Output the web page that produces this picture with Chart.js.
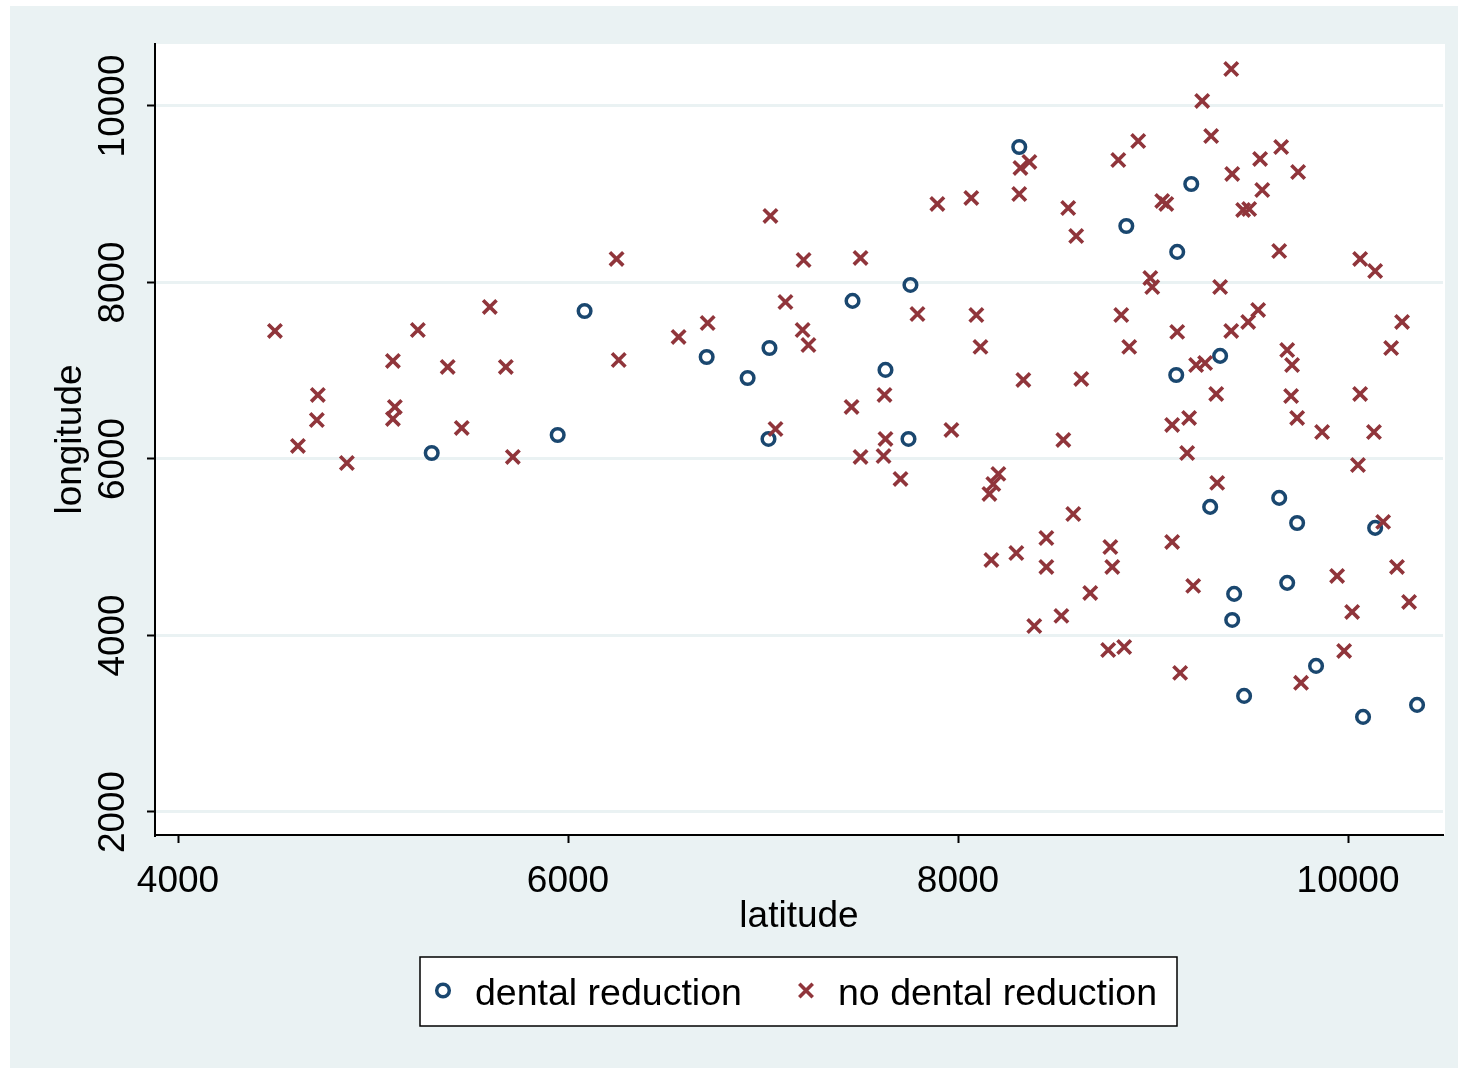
<!DOCTYPE html>
<html><head><meta charset="utf-8">
<script src="https://cdn.jsdelivr.net/npm/chart.js@4.4.0/dist/chart.umd.min.js"></script>
<style>html,body{margin:0;padding:0;background:#fff;overflow:hidden}</style>
</head><body>
<canvas id="c" width="1461" height="1072"></canvas>
<script>
const seriesLabels = ['dental reduction', 'no dental reduction'];
const xTitle = 'latitude';
const yTitle = 'longitude';
const xTicks = [4000, 6000, 8000, 10000];
const yTicks = [2000, 4000, 6000, 8000, 10000];

const dentalLat = [5301,5947,6085,6711,6921,7033,7028,7459,7628,7756,7746,8314,8863,9196,9124,9119,9344,9293,9647,9739,10139,9416,9688,9406,9836,9467,10077,10354];
const dentalLon = [6068,6272,7677,7156,6918,7258,6227,7791,7009,7972,6227,9535,8640,9116,8346,6952,7168,5457,5559,5275,5219,4471,4596,4176,3655,3315,3077,3213];

const noDentalLat = [7038,6249,7208,8320,8366,8314,7894,8068,8565,8606,8822,8924,7500,9401,9252,9298,9657,9549,9406,9744,9560,9047,9068,9462,9493,9647,10062,10139,8986,
4497,5230,5599,5102,5383,5681,4717,4712,5112,5102,5455,4615,4866,5717,
6260,6567,6716,7115,7203,7233,7064,7454,
7792,8094,8115,8335,8632,8837,8878,7623,7966,7628,8540,7500,7618,7705,8207,8181,8161,
8996,9344,9539,9488,9401,9124,10277,10221,9688,9713,9221,9267,9324,9708,10062,9185,9098,9739,9867,10133,9175,10051,9329,
8591,8453,8299,8171,8453,8781,8791,8678,8530,8391,8770,8852,
9098,9206,9944,10251,10021,10313,9980,9139,9759,10180];
const noDentalLon = [8754,8267,8255,9298,9366,9003,8890,8958,8844,8527,9388,9603,8278,10419,10057,9660,9535,9400,9230,9252,9048,8924,8890,8822,8833,8357,8267,8130,8051,
7451,7462,7723,7111,7043,7043,6726,6442,6590,6454,6352,6148,5955,6023,
7122,7383,7541,7779,7462,7292,6340,6590,
7643,7632,7270,6896,6907,7632,7270,6726,6329,6227,6216,6023,6034,5774,5831,5717,5604,
7949,7949,7689,7553,7451,7440,7553,7258,7235,7065,7065,7088,6737,6714,6737,6465,6386,6465,6306,6306,6068,5932,5729,
5377,5105,4935,4856,4777,5003,4777,4482,4222,4108,3836,3870,
5060,4562,4675,4777,4267,4380,3825,3576,3463,5287];

const NAVY = '#1a476f';
const MAROON = '#90353b';
const BG = '#eaf2f3';
const FONT = '"Liberation Sans", Arial, Helvetica, sans-serif';

Chart.defaults.font.family = FONT;
Chart.defaults.color = '#000';

const bgPlugin = {
  id: 'stataBg',
  beforeDraw(chart) {
    const { ctx, chartArea: a } = chart;
    ctx.save();
    ctx.fillStyle = '#fff';
    ctx.fillRect(0, 0, chart.width, chart.height);
    ctx.fillStyle = BG;
    ctx.fillRect(10, 6, 1448, 1062);
    ctx.fillStyle = '#fff';
    ctx.fillRect(a.left, a.top, a.right - a.left + 2, a.bottom - a.top);
    ctx.restore();
  }
};

const boxLegend = {
  id: 'boxLegend',
  afterDraw(chart) {
    const ctx = chart.ctx;
    const x0 = 420, y0 = 957, w = 757, h = 69;
    const cy = y0 + h / 2;
    ctx.save();
    ctx.fillStyle = '#fff';
    ctx.fillRect(x0, y0, w, h);
    ctx.strokeStyle = '#000';
    ctx.lineWidth = 1.5;
    ctx.strokeRect(x0, y0, w, h);
    const ds = chart.data.datasets;
    ctx.strokeStyle = ds[0].pointBorderColor;
    ctx.lineWidth = ds[0].pointBorderWidth;
    ctx.beginPath();
    ctx.arc(443, cy - 1, ds[0].pointRadius, 0, Math.PI * 2);
    ctx.stroke();
    ctx.strokeStyle = ds[1].pointBorderColor;
    ctx.lineWidth = ds[1].pointBorderWidth;
    const r = ds[1].pointRadius * Math.SQRT1_2;
    const cx2 = 806;
    ctx.beginPath();
    ctx.moveTo(cx2 - r, cy - 1 - r); ctx.lineTo(cx2 + r, cy - 1 + r);
    ctx.moveTo(cx2 + r, cy - 1 - r); ctx.lineTo(cx2 - r, cy - 1 + r);
    ctx.stroke();
    ctx.fillStyle = '#000';
    ctx.font = '37.5px ' + FONT;
    ctx.textBaseline = 'middle';
    ctx.textAlign = 'left';
    ctx.fillText(ds[0].label, 475, cy + 3);
    ctx.fillText(ds[1].label, 838, cy + 3);
    ctx.restore();
  }
};

new Chart(document.getElementById('c'), {
  type: 'scatter',
  data: {
    datasets: [
      {
        label: seriesLabels[0],
        data: dentalLat.map((x, i) => ({ x: x, y: dentalLon[i] })),
        pointStyle: 'circle',
        pointRadius: 6.3,
        pointBorderWidth: 3.5,
        pointBorderColor: NAVY,
        pointBackgroundColor: 'rgba(0,0,0,0)',
        order: 1
      },
      {
        label: seriesLabels[1],
        data: noDentalLat.map((x, i) => ({ x: x, y: noDentalLon[i] })),
        pointStyle: 'crossRot',
        pointRadius: 9.5,
        pointBorderWidth: 3.6,
        pointBorderColor: MAROON,
        pointBackgroundColor: MAROON,
        order: 0
      }
    ]
  },
  options: {
    responsive: false,
    animation: false,
    devicePixelRatio: 1,
    layout: { padding: { left: 12, right: 18, top: 44, bottom: 127 } },
    plugins: { legend: { display: false }, tooltip: { enabled: false } },
    scales: {
      x: {
        type: 'linear',
        min: 3882, max: 10487,
        afterBuildTicks: s => { s.ticks = xTicks.map(v => ({ value: v })); },
        afterFit: s => { s.height = 110; },
        ticks: { font: { size: 37, lineHeight: 1 }, color: '#000', padding: 20, maxRotation: 0, callback: v => String(v) },
        grid: { drawOnChartArea: false, drawTicks: true, tickLength: 8, tickColor: '#000', tickWidth: 2 },
        border: { display: true, color: '#000', width: 2 },
        title: { display: true, text: xTitle, font: { size: 37, lineHeight: 1 }, color: '#000', padding: { top: 0, bottom: 10 } }
      },
      y: {
        type: 'linear',
        min: 1739, max: 10702,
        afterBuildTicks: s => { s.ticks = yTicks.map(v => ({ value: v })); },
        afterFit: s => { s.width = 143; },
        ticks: { font: { size: 37, lineHeight: 1 }, color: '#000', padding: -18, minRotation: 90, maxRotation: 90, crossAlign: 'center', callback: v => String(v) },
        grid: { color: BG, lineWidth: 3, drawTicks: true, tickLength: 8, tickColor: '#000', tickWidth: 2 },
        border: { display: true, color: '#000', width: 2 },
        title: { display: true, text: yTitle, font: { size: 37, lineHeight: 1 }, color: '#000', padding: { top: 40, bottom: 0 } }
      }
    }
  },
  plugins: [bgPlugin, boxLegend]
});
</script>
</body></html>
